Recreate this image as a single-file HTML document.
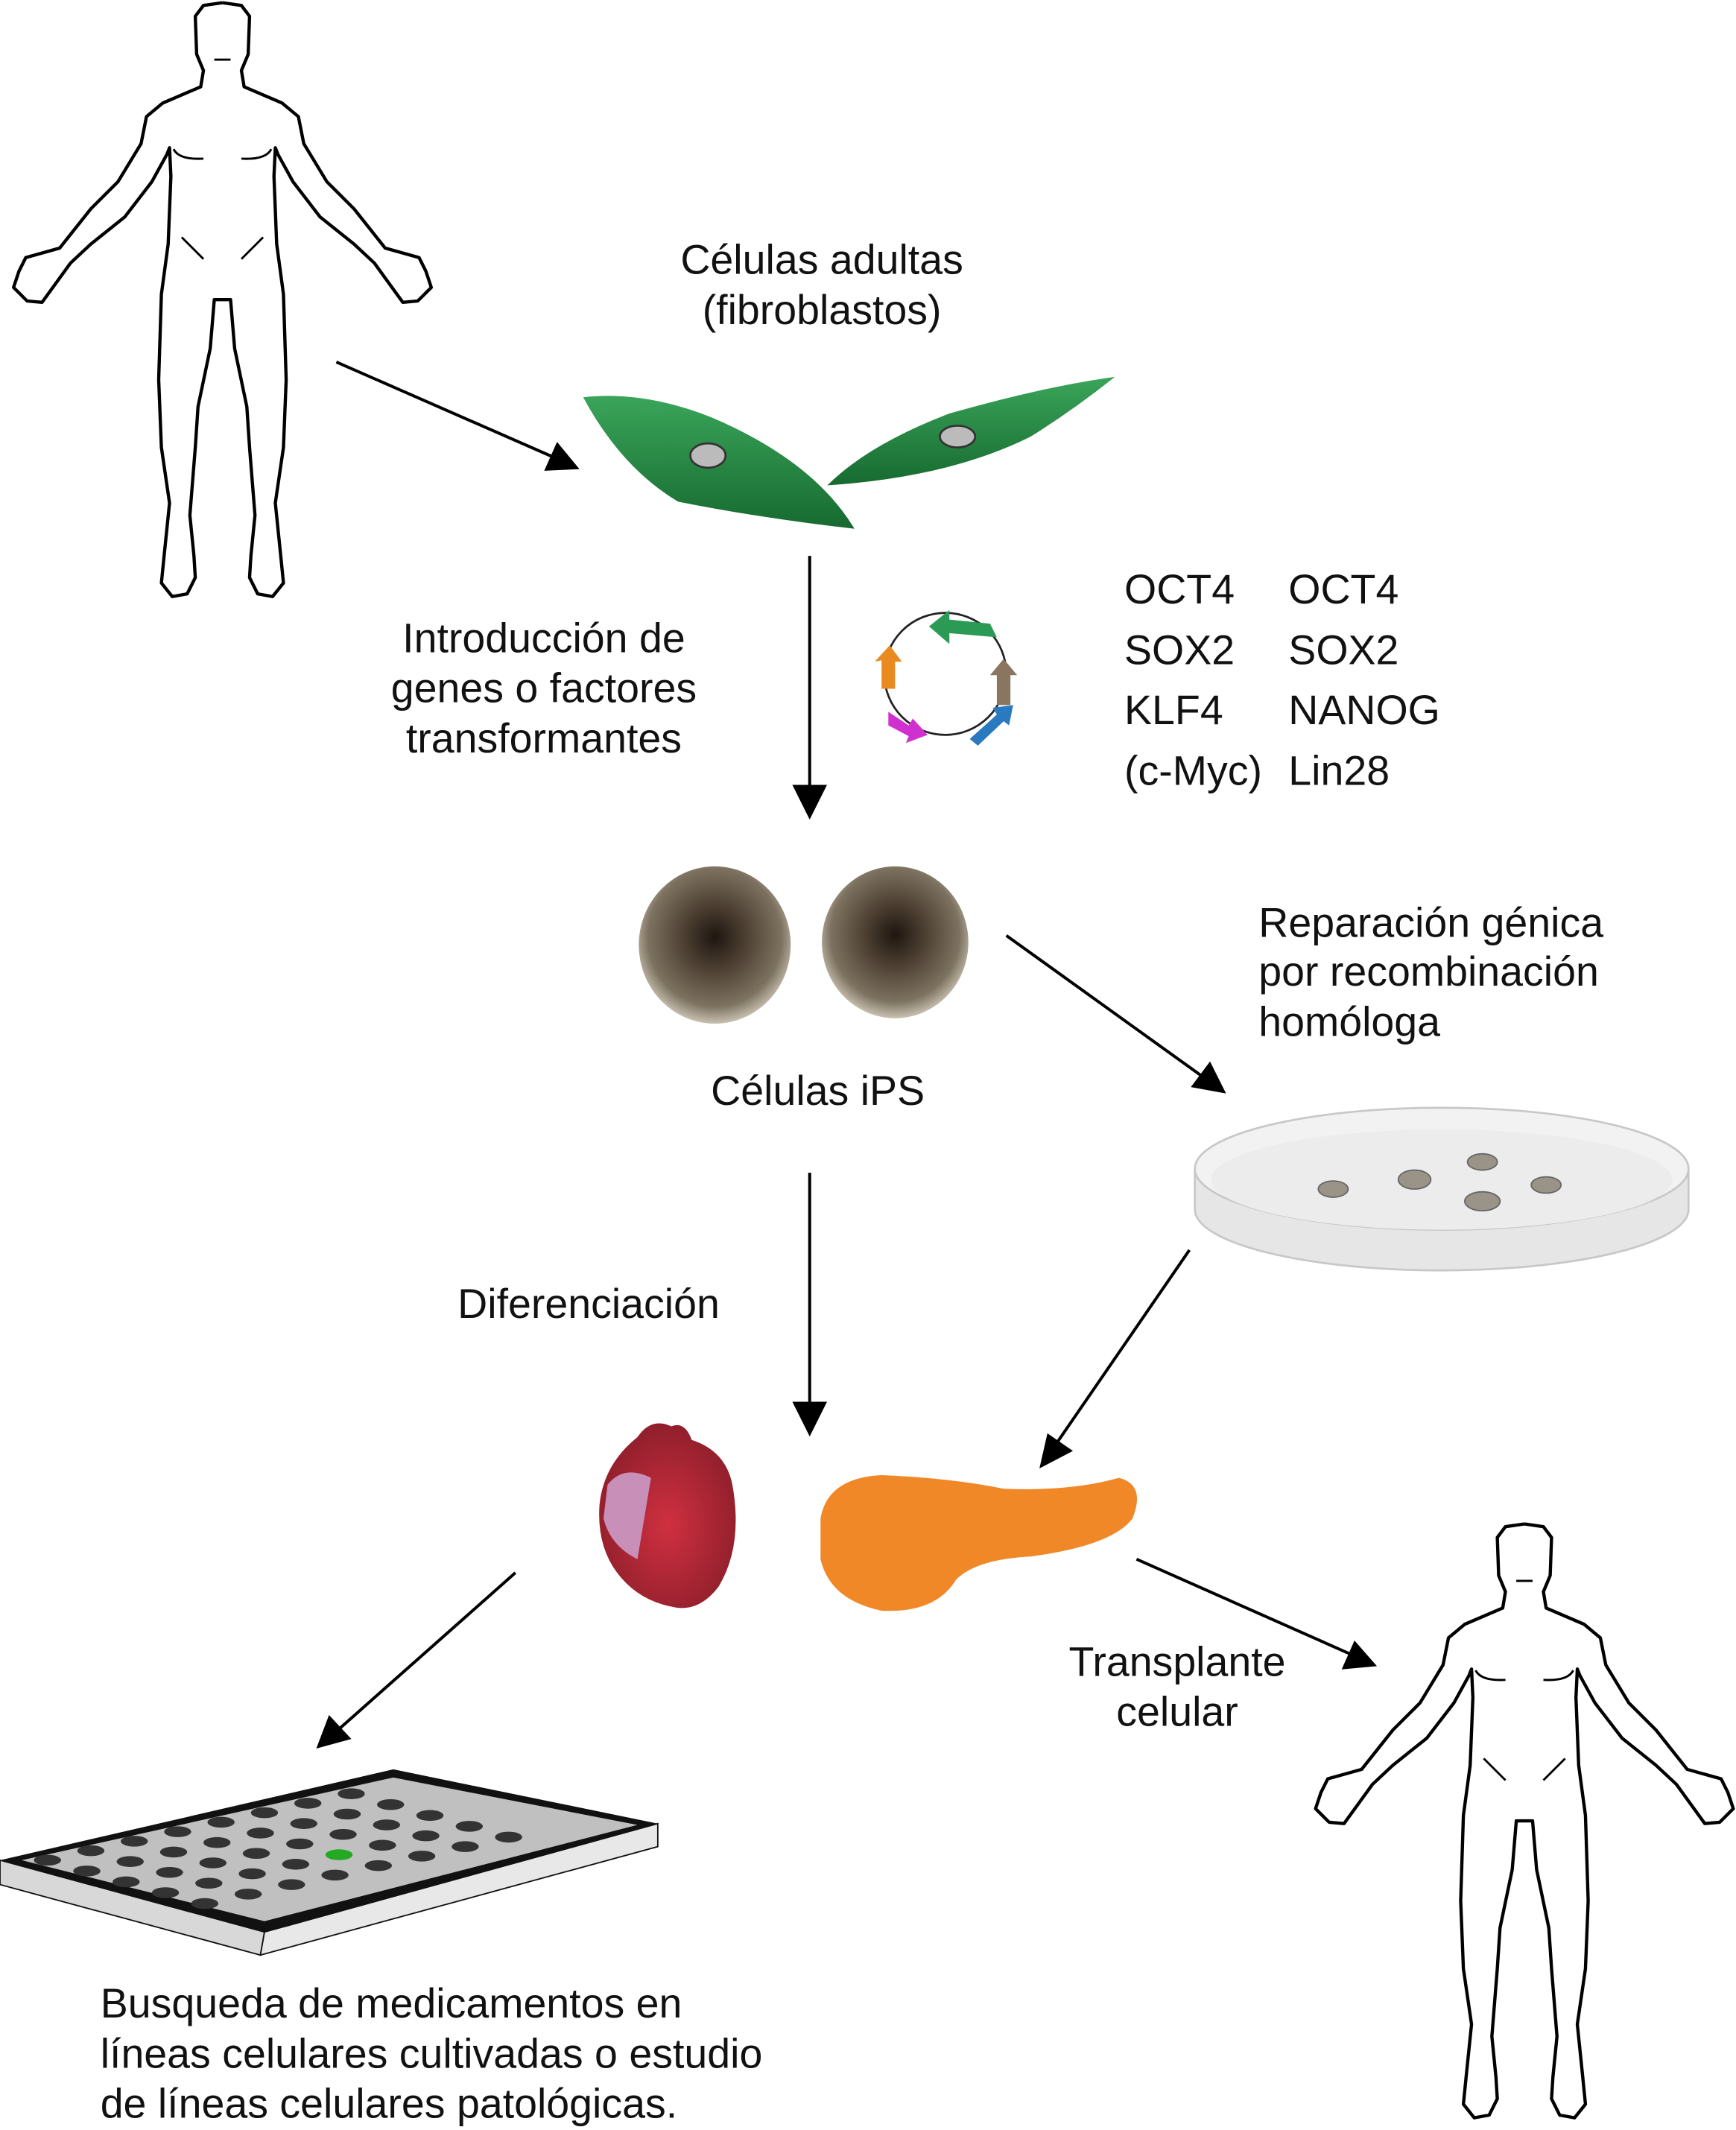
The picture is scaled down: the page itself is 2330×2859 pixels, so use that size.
<!DOCTYPE html>
<html><head><meta charset="utf-8"><style>
html,body{margin:0;padding:0;background:#fff;}
svg{display:block;}
text{font-family:"Liberation Sans",sans-serif;font-size:30.5px;fill:#111;}
</style></head><body>
<svg width="2330" height="2859" viewBox="0 0 1280 1571" preserveAspectRatio="none" xmlns="http://www.w3.org/2000/svg">
<defs>
<path id="half" d="M164,221 L158,221 L155,257 L146,300 L144,330 L140,380 L143,410 L144,426 L138,438 L127,440 L119,430 L121,410 L125,371 L119,330 L117,280 L119,217 L124,180 L126,130 L125,109 L123,114 L112,134 L92,160 L67,180 L52,194 L31,223 L20,222 L10,212 L14,200 L19,190 L44,183 L67,154 L87,134 L104,106 L108,86 L120,76 L148,64 L150,52 L145,40 L144,12 L150,4 L164,2" fill="none" stroke="#000" stroke-width="2.4" stroke-linejoin="round"/>
<g id="human">
<use href="#half"/>
<use href="#half" transform="translate(328,0) scale(-1,1)"/>
<path d="M128,110 Q132,118 150,117 M178,117 Q196,118 200,110 M134,175 L150,191 M194,175 L178,191 M158,44 L170,44" fill="none" stroke="#000" stroke-width="1.6"/>
</g>
<radialGradient id="ips" cx="50%" cy="45%" r="55%">
<stop offset="0" stop-color="#1e1610"/><stop offset="0.35" stop-color="#4a3d30"/><stop offset="0.8" stop-color="#7d7260"/><stop offset="1" stop-color="#c8c0b0"/>
</radialGradient>
<linearGradient id="gc" x1="0" y1="0" x2="0" y2="1"><stop offset="0" stop-color="#3aa55a"/><stop offset="1" stop-color="#176a30"/></linearGradient>
<radialGradient id="heart" cx="50%" cy="55%" r="60%"><stop offset="0" stop-color="#d03040"/><stop offset="1" stop-color="#8a1d2a"/></radialGradient>
</defs>

<use href="#human" transform="translate(0,0)"/>
<use href="#human" transform="translate(960,1122)"/>

<g stroke="#000" stroke-width="2.2" fill="#000">
<line x1="248" y1="267" x2="410" y2="338"/><polygon points="425,345 403,346 411,328"/>
<line x1="597" y1="410" x2="597" y2="582"/><polygon points="597,602 586,580 608,580"/>
<line x1="742" y1="690" x2="888" y2="795"/><polygon points="902,805 880,801 892,785"/>
<line x1="597" y1="865" x2="597" y2="1037"/><polygon points="597,1057 586,1035 608,1035"/>
<line x1="877" y1="922" x2="778" y2="1066"/><polygon points="768,1081 773,1059 789,1070"/>
<line x1="380" y1="1160" x2="248" y2="1277"/><polygon points="235,1288 243,1267 257,1282"/>
<line x1="838" y1="1150" x2="998" y2="1221"/><polygon points="1013,1228 991,1230 999,1212"/>
</g>

<text x="606" y="202" text-anchor="middle">Células adultas</text>
<text x="606" y="239" text-anchor="middle">(fibroblastos)</text>
<text x="401" y="481" text-anchor="middle">Introducción de</text>
<text x="401" y="518" text-anchor="middle">genes o factores</text>
<text x="401" y="555" text-anchor="middle">transformantes</text>
<text x="829" y="445">OCT4</text><text x="950" y="445">OCT4</text>
<text x="829" y="490">SOX2</text><text x="950" y="490">SOX2</text>
<text x="829" y="534">KLF4</text><text x="950" y="534">NANOG</text>
<text x="829" y="579">(c-Myc)</text><text x="950" y="579">Lin28</text>
<text x="603" y="815" text-anchor="middle">Células iPS</text>
<text x="928" y="691">Reparación génica</text>
<text x="928" y="727">por recombinación</text>
<text x="928" y="764">homóloga</text>
<text x="434" y="972" text-anchor="middle">Diferenciación</text>
<text x="868" y="1236" text-anchor="middle">Transplante</text>
<text x="868" y="1273" text-anchor="middle">celular</text>
<text x="74" y="1488">Busqueda de medicamentos en</text>
<text x="74" y="1525">líneas celulares cultivadas o estudio</text>
<text x="74" y="1562">de líneas celulares patológicas.</text>

<path d="M430,293 Q475,288 525,308 Q600,340 630,390 Q560,382 500,370 Q458,345 430,293Z" fill="url(#gc)"/>
<ellipse cx="522" cy="336" rx="13" ry="9" fill="#bbb" stroke="#333" stroke-width="1.5"/>
<path d="M610,358 Q640,328 700,305 Q770,285 822,278 Q792,302 760,322 Q700,352 610,358Z" fill="url(#gc)"/>
<ellipse cx="706" cy="322" rx="13" ry="8" fill="#bbb" stroke="#333" stroke-width="1.5"/>

<circle cx="697" cy="497" r="45" fill="none" stroke="#222" stroke-width="1.5"/>
<g stroke="none">
<path d="M730,460 L735,470 L700,467 L700,475 L685,462 L700,450 L700,457 Z" fill="#2a9a55"/>
<path d="M735,520 L735,498 L730,498 L740,486 L750,498 L745,498 L745,520Z" fill="#8a7560"/>
<path d="M715,545 L735,527 L732,522 L747,520 L744,535 L740,532 L721,550Z" fill="#2a7ac0"/>
<path d="M655,525 L670,535 L673,530 L684,542 L668,548 L670,543 L655,535Z" fill="#d030d0"/>
<path d="M650,508 L650,487 L645,488 L656,476 L665,488 L660,488 L660,508Z" fill="#e88a20"/>
</g>

<ellipse cx="527" cy="697" rx="56" ry="58" fill="url(#ips)"/>
<ellipse cx="660" cy="695" rx="54" ry="56" fill="url(#ips)"/>

<path d="M881,862 L881,892 A182,45 0 0 0 1245,892 L1245,862 Z" fill="#e6e6e6" stroke="#c8c8c8" stroke-width="1.5"/>
<ellipse cx="1063" cy="862" rx="182" ry="45" fill="#f2f2f2" stroke="#c8c8c8" stroke-width="1.5"/>
<ellipse cx="1063" cy="870" rx="170" ry="37" fill="#ececec"/>
<g fill="#9a9488" stroke="#666" stroke-width="1">
<ellipse cx="983" cy="877" rx="11" ry="6"/><ellipse cx="1043" cy="870" rx="12" ry="7"/>
<ellipse cx="1093" cy="857" rx="11" ry="6"/><ellipse cx="1140" cy="874" rx="11" ry="6"/>
<ellipse cx="1093" cy="886" rx="13" ry="7"/>
</g>

<path d="M470,1060 Q480,1045 495,1052 Q505,1048 510,1062 Q535,1070 540,1095 Q548,1140 530,1170 Q515,1190 495,1185 Q470,1180 455,1160 Q440,1140 442,1110 Q445,1080 470,1060Z" fill="url(#heart)"/>
<path d="M448,1095 Q460,1080 480,1090 L470,1150 Q450,1140 445,1120Z" fill="#c890b8"/>

<path d="M605,1120 Q610,1090 650,1088 Q700,1090 740,1098 Q790,1100 825,1090 Q845,1095 835,1120 Q820,1140 760,1148 Q720,1150 705,1165 Q690,1190 650,1188 Q612,1180 605,1150Z" fill="#f08828"/>

<polygon points="0,1372 290,1305 485,1345 195,1425" fill="#111"/>
<polygon points="0,1372 195,1425 192,1442 0,1390" fill="#d8d8d8" stroke="#111" stroke-width="1"/>
<polygon points="195,1425 485,1345 485,1362 192,1442" fill="#e8e8e8" stroke="#111" stroke-width="1"/>
<polygon points="16,1372 290,1311 470,1346 195,1417" fill="#c0c0c0"/>
<g fill="#333">
<g transform="translate(35,1372)"><ellipse cx="0" cy="0" rx="10" ry="4"/><ellipse cx="32" cy="-7" rx="10" ry="4"/><ellipse cx="64" cy="-14" rx="10" ry="4"/><ellipse cx="96" cy="-21" rx="10" ry="4"/><ellipse cx="128" cy="-28" rx="10" ry="4"/><ellipse cx="160" cy="-35" rx="10" ry="4"/><ellipse cx="192" cy="-42" rx="10" ry="4"/><ellipse cx="224" cy="-49" rx="10" ry="4"/></g>
<g transform="translate(64,1380)"><ellipse cx="0" cy="0" rx="10" ry="4"/><ellipse cx="32" cy="-7" rx="10" ry="4"/><ellipse cx="64" cy="-14" rx="10" ry="4"/><ellipse cx="96" cy="-21" rx="10" ry="4"/><ellipse cx="128" cy="-28" rx="10" ry="4"/><ellipse cx="160" cy="-35" rx="10" ry="4"/><ellipse cx="192" cy="-42" rx="10" ry="4"/><ellipse cx="224" cy="-49" rx="10" ry="4"/></g>
<g transform="translate(93,1388)"><ellipse cx="0" cy="0" rx="10" ry="4"/><ellipse cx="32" cy="-7" rx="10" ry="4"/><ellipse cx="64" cy="-14" rx="10" ry="4"/><ellipse cx="96" cy="-21" rx="10" ry="4"/><ellipse cx="128" cy="-28" rx="10" ry="4"/><ellipse cx="160" cy="-35" rx="10" ry="4"/><ellipse cx="192" cy="-42" rx="10" ry="4"/><ellipse cx="224" cy="-49" rx="10" ry="4"/></g>
<g transform="translate(122,1396)"><ellipse cx="0" cy="0" rx="10" ry="4"/><ellipse cx="32" cy="-7" rx="10" ry="4"/><ellipse cx="64" cy="-14" rx="10" ry="4"/><ellipse cx="96" cy="-21" rx="10" ry="4"/><ellipse cx="128" cy="-28" rx="10" ry="4" fill="#2a2"/><ellipse cx="160" cy="-35" rx="10" ry="4"/><ellipse cx="192" cy="-42" rx="10" ry="4"/><ellipse cx="224" cy="-49" rx="10" ry="4"/></g>
<g transform="translate(151,1404)"><ellipse cx="0" cy="0" rx="10" ry="4"/><ellipse cx="32" cy="-7" rx="10" ry="4"/><ellipse cx="64" cy="-14" rx="10" ry="4"/><ellipse cx="96" cy="-21" rx="10" ry="4"/><ellipse cx="128" cy="-28" rx="10" ry="4"/><ellipse cx="160" cy="-35" rx="10" ry="4"/><ellipse cx="192" cy="-42" rx="10" ry="4"/><ellipse cx="224" cy="-49" rx="10" ry="4"/></g>
</g>
</svg>
</body></html>
